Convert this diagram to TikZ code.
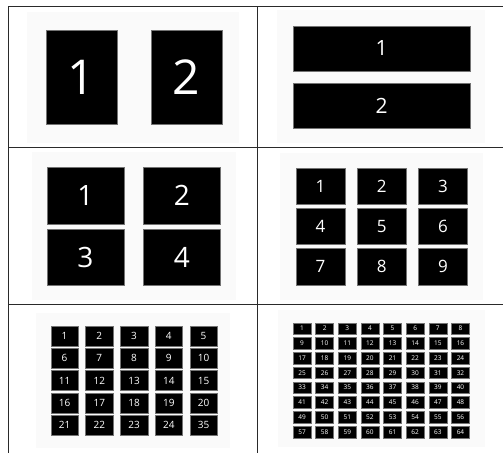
\documentclass[tikz,border=0pt]{standalone}
\usepackage{fontspec}
\setmainfont{Open Sans}
\definecolor{gridline}{HTML}{2A2A2A}
\definecolor{panelbg}{HTML}{FAFAFA}
\usetikzlibrary{positioning}

\begin{document}
\begin{tikzpicture}[x=1pt,y=-1pt,
  tile/.style={fill=black,draw=black!55,line width=0.5pt,text=white,inner sep=0pt},
  panel/.style={fill=panelbg},
  rule/.style={draw=gridline,line width=1pt}]
  \useasboundingbox (0,0) rectangle (503,453);
  \fill[white] (0,0) rectangle (503,453);
  % light panels behind each layout
  \fill[panel] (27,12) rectangle (239,143);
  \fill[panel] (277,10) rectangle (485,143);
  \fill[panel] (32,152) rectangle (236,300);
  \fill[panel] (280,153) rectangle (483,300);
  \fill[panel] (36,313) rectangle (230,448);
  \fill[panel] (278,310) rectangle (485,447);
  % table rules
  \draw[rule] (503,6) -- (8.5,6) -- (8.5,453);
  \draw[rule] (257.5,6) -- (257.5,453);
  \draw[rule] (8.5,147) -- (503,147);
  \draw[rule] (8.5,304) -- (503,304);
  % two side by side
  \node[tile,minimum width=71pt,minimum height=94pt,font=\fontsize{48}{48}\selectfont] (a1) at (81.5,77) {1};
  \node[tile,minimum width=71pt,minimum height=94pt,font=\fontsize{48}{48}\selectfont] (a2) at (186.5,77) {2};
  % two stacked
  \node[tile,minimum width=177pt,minimum height=45pt,font=\fontsize{21}{21}\selectfont] (b1) at (381.5,48.5) {1};
  \node[tile,minimum width=177pt,minimum height=45pt,font=\fontsize{21}{21}\selectfont] (b2) at (381.5,105.5) {2};
  % 2 x 2
  \foreach \r in {0,1} \foreach \c in {0,1} {
    \pgfmathtruncatemacro\n{\r*2+\c+1}
    \node[tile,minimum width=77pt,minimum height=56.5pt,font=\fontsize{28}{28}\selectfont]
      (c\n) at (85.5+96.5*\c,195.5+61.5*\r) {\n};
  }
  % 3 x 3
  \foreach \r in {0,1,2} \foreach \c in {0,1,2} {
    \pgfmathtruncatemacro\n{\r*3+\c+1}
    \node[tile,minimum width=49pt,minimum height=36.5pt,font=\fontsize{17}{17}\selectfont]
      (d\n) at (320.5+61.25*\c,186+40.25*\r) {\n};
  }
  % 5 x 5
  \foreach \r in {0,...,4} \foreach \c in {0,...,4} {
    \pgfmathtruncatemacro\n{\r*5+\c+1}
    \ifnum\n=25 \def\lbl{35}\else \let\lbl\n\fi
    \node[tile,minimum width=27.5pt,minimum height=20pt,font=\fontsize{10}{10}\selectfont]
      (e\n) at (64.5+34.75*\c,336+22.25*\r) {\lbl};
  }
  % 8 x 8
  \foreach \r in {0,...,7} \foreach \c in {0,...,7} {
    \pgfmathtruncatemacro\n{\r*8+\c+1}
    \node[tile,minimum width=18pt,minimum height=11.5pt,font=\fontsize{6.5}{6.5}\selectfont]
      (f\n) at (302+22.64*\c,328.5+14.79*\r) {\n};
  }
\end{tikzpicture}
\end{document}
